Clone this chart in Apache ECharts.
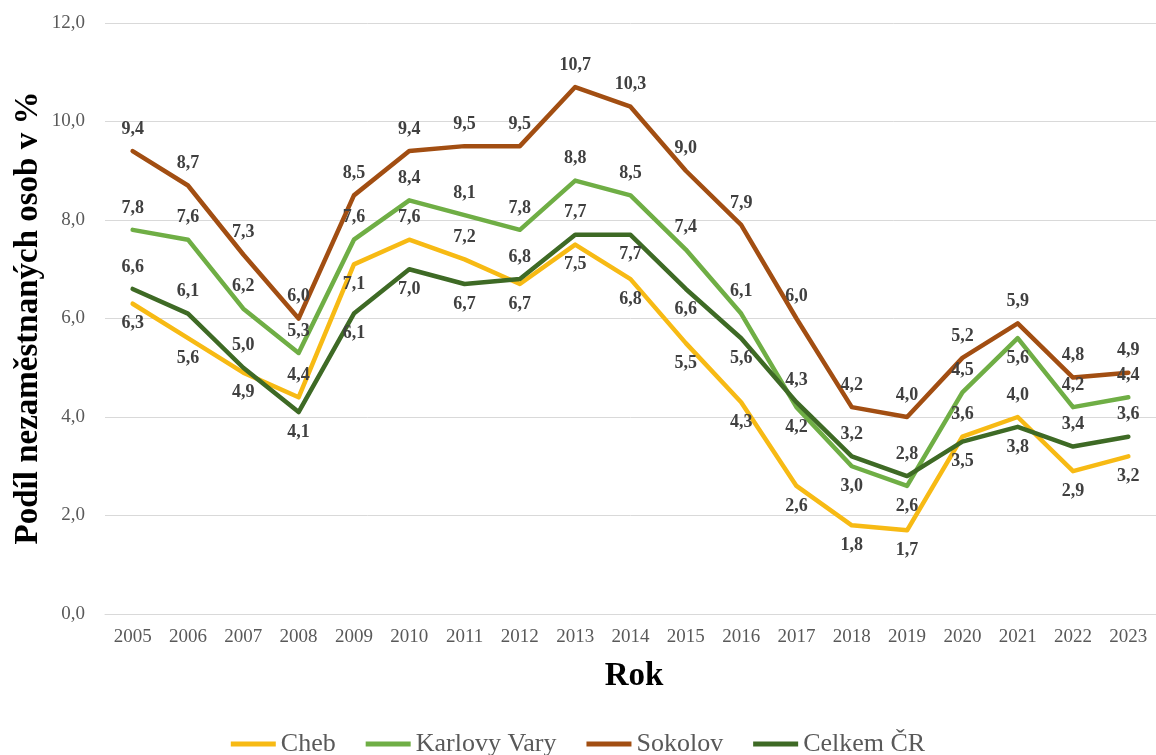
<!DOCTYPE html>
<html>
<head>
<meta charset="utf-8">
<script src="https://cdn.jsdelivr.net/npm/echarts@6/dist/echarts.min.js"></script>
<style>
html,body{margin:0;padding:0;background:#fff;}
#chart{width:1156px;height:755px;}
</style>
</head>
<body>
<div id="chart"></div>
<script>
const years = ['2005','2006','2007','2008','2009','2010','2011','2012','2013','2014','2015','2016','2017','2018','2019','2020','2021','2022','2023'];
const cheb        = [6.3, 5.6, 4.9, 4.4, 7.1, 7.6, 7.2, 6.7, 7.5, 6.8, 5.5, 4.3, 2.6, 1.8, 1.7, 3.6, 4.0, 2.9, 3.2];
const karlovyVary = [7.8, 7.6, 6.2, 5.3, 7.6, 8.4, 8.1, 7.8, 8.8, 8.5, 7.4, 6.1, 4.2, 3.0, 2.6, 4.5, 5.6, 4.2, 4.4];
const sokolov     = [9.4, 8.7, 7.3, 6.0, 8.5, 9.4, 9.5, 9.5, 10.7, 10.3, 9.0, 7.9, 6.0, 4.2, 4.0, 5.2, 5.9, 4.8, 4.9];
const celkemCR    = [6.6, 6.1, 5.0, 4.1, 6.1, 7.0, 6.7, 6.8, 7.7, 7.7, 6.6, 5.6, 4.3, 3.2, 2.8, 3.5, 3.8, 3.4, 3.6];
const seriesNames = ['Cheb', 'Karlovy Vary', 'Sokolov', 'Celkem ČR'];
const yTicks = [0, 2, 4, 6, 8, 10, 12];

// label placement (A = above, B = below), kept separate from the values
const chebLabelPos   = 'BBBABAABBBBBBBBAABB';
const kvLabelPos     = 'AAAAAAAAAAAABBBABAA';
const sokolovLabelPos= 'AAAAAAAAAAAAAAAAAAA';
const celkemLabelPos = 'AAABBBBAABBBAAABBAA';

const FONT = "'Liberation Serif', 'Times New Roman', serif";
const colors = ['#F7BA14', '#6FAE45', '#A24E12', '#3E6A25'];

function fmt(v){ return v.toFixed(1).replace('.', ','); }

function buildSeries(name, values, pos, color){
  return {
    name: name,
    type: 'line',
    color: color,
    symbol: 'circle',
    symbolSize: 0.01,
    showSymbol: true,
    smooth: false,
    lineStyle: { width: 4.5, color: color, cap: 'round', join: 'round' },
    itemStyle: { color: color },
    data: values.map((v, i) => ({
      value: v,
      label: pos[i] === 'A' ? { position: 'top', distance: 13 } : { position: 'bottom', distance: 11 }
    })),
    label: {
      show: true,
      fontFamily: FONT,
      fontWeight: 'bold',
      fontSize: 18,
      color: '#404040',
      formatter: p => fmt(p.value)
    },
    labelLayout: { hideOverlap: false },
    emphasis: { disabled: true },
    animation: false
  };
}

const chart = echarts.init(document.getElementById('chart'), null, { renderer: 'canvas' });
chart.setOption({
  animation: false,
  backgroundColor: '#ffffff',
  grid: { left: 105, top: 23, width: 1058, height: 591, containLabel: false },
  xAxis: {
    type: 'category',
    data: years,
    boundaryGap: true,
    axisLine: { show: true, lineStyle: { color: '#d9d9d9', width: 1 } },
    axisTick: { show: false },
    axisLabel: { fontFamily: FONT, fontSize: 19, color: '#595959', margin: 14 }
  },
  yAxis: {
    type: 'value',
    min: yTicks[0],
    max: yTicks[yTicks.length - 1],
    interval: yTicks[1] - yTicks[0],
    axisLine: { show: false },
    axisTick: { show: false },
    splitLine: { lineStyle: { color: '#d9d9d9', width: 1 } },
    axisLabel: { fontFamily: FONT, fontSize: 19, color: '#595959', margin: 20, formatter: v => fmt(v) }
  },
  legend: {
    data: seriesNames,
    left: 'center',
    top: 726,
    icon: 'rect',
    itemWidth: 45,
    itemHeight: 5,
    itemGap: 30,
    textStyle: { fontFamily: FONT, fontSize: 26, color: '#595959' }
  },
  graphic: [
    {
      type: 'text',
      x: 28, y: 318,
      rotation: Math.PI / 2,
      style: {
        text: 'Podíl nezaměstnaných osob v %',
        font: "bold 33px 'Liberation Serif', 'Times New Roman', serif",
        fill: '#000000',
        textAlign: 'center',
        textVerticalAlign: 'middle'
      }
    },
    {
      type: 'text',
      x: 634, y: 676,
      style: {
        text: 'Rok',
        font: "bold 33px 'Liberation Serif', 'Times New Roman', serif",
        fill: '#000000',
        textAlign: 'center',
        textVerticalAlign: 'middle'
      }
    }
  ],
  series: [
    buildSeries(seriesNames[0], cheb, chebLabelPos, colors[0]),
    buildSeries(seriesNames[1], karlovyVary, kvLabelPos, colors[1]),
    buildSeries(seriesNames[2], sokolov, sokolovLabelPos, colors[2]),
    buildSeries(seriesNames[3], celkemCR, celkemLabelPos, colors[3])
  ]
});
</script>
</body>
</html>
